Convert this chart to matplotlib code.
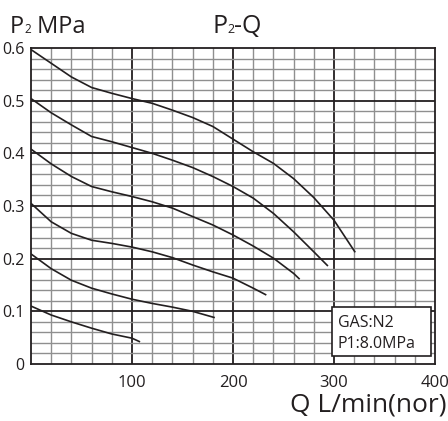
import matplotlib.pyplot as plt
from matplotlib.patches import Rectangle
import numpy as np

# P2-Q flow curves (Q in L/min, P2 in MPa)
q1 = [0, 20, 40, 60, 80, 100, 120, 140, 160, 180, 200, 220, 240, 260, 280, 300, 321]
p1 = [0.597, 0.571, 0.545, 0.525, 0.514, 0.504, 0.495, 0.482, 0.468, 0.451, 0.427, 0.403, 0.381, 0.352, 0.316, 0.273, 0.212]

q2 = [0, 20, 40, 60, 80, 100, 120, 140, 160, 180, 200, 220, 240, 260, 280, 294]
p2 = [0.504, 0.477, 0.454, 0.432, 0.422, 0.411, 0.400, 0.387, 0.373, 0.356, 0.337, 0.315, 0.286, 0.251, 0.213, 0.186]

q3 = [0, 20, 40, 60, 80, 100, 120, 140, 160, 180, 200, 220, 240, 260, 266]
p3 = [0.408, 0.380, 0.356, 0.337, 0.327, 0.318, 0.308, 0.296, 0.280, 0.264, 0.245, 0.224, 0.201, 0.172, 0.161]

q4 = [0, 20, 40, 60, 80, 100, 120, 140, 160, 180, 200, 220, 233]
p4 = [0.305, 0.270, 0.248, 0.235, 0.229, 0.222, 0.213, 0.202, 0.188, 0.175, 0.163, 0.144, 0.131]

q5 = [0, 20, 40, 60, 80, 100, 120, 140, 160, 182]
p5 = [0.209, 0.181, 0.159, 0.144, 0.133, 0.123, 0.115, 0.108, 0.100, 0.088]

q6 = [0, 20, 40, 60, 80, 100, 108]
p6 = [0.110, 0.093, 0.080, 0.068, 0.057, 0.049, 0.042]

x_ticks = [100, 200, 300, 400]
y_ticks = [0, 0.1, 0.2, 0.3, 0.4, 0.5, 0.6]
y_labels = ['0', '0.1', '0.2', '0.3', '0.4', '0.5', '0.6']
note_lines = ['GAS:N2', 'P1:8.0MPa']

ink = '#231f20'
plt.rcParams['font.family'] = ['Open Sans', 'DejaVu Sans']

fig = plt.figure(figsize=(4.48, 4.21), dpi=100)
ax = fig.add_axes([31 / 448, 57 / 421, 404 / 448, 316 / 421])

ax.set_xlim(0, 400)
ax.set_ylim(0, 0.6)

# grid: thin grey every 20 / 0.02, dark every 100 / 0.1
for x in np.arange(20, 400, 20):
    major = x % 100 == 0
    ax.axvline(x, color=ink if major else '#8f8f8f', lw=1.3 if major else 1.0, zorder=1)
for y in np.arange(0.02, 0.6, 0.02):
    major = abs(y * 10 - round(y * 10)) < 1e-6
    ax.axhline(y, color=ink if major else '#8f8f8f', lw=1.3 if major else 1.0, zorder=1)

for q, p in [(q1, p1), (q2, p2), (q3, p3), (q4, p4), (q5, p5), (q6, p6)]:
    ax.plot(q, p, color=ink, lw=1.2, zorder=3, solid_capstyle='butt')

for s in ax.spines.values():
    s.set_color(ink)
    s.set_linewidth(1.3)

ax.set_xticks(x_ticks)
ax.set_yticks(y_ticks)
ax.set_yticklabels(y_labels)
ax.tick_params(length=0, colors=ink)
ax.tick_params(axis='y', pad=4.5, labelsize=11.5)
ax.tick_params(axis='x', pad=8, labelsize=12)


def pieces(x_px, base_px, parts):
    # draw text pieces one after another on a common baseline (pixel coords)
    fig.canvas.draw()
    r = fig.canvas.get_renderer()
    x = x_px
    for s, size in parts:
        t = fig.text(x / 448, 1 - base_px / 421, s, fontsize=size, color=ink,
                     ha='left', va='baseline')
        x = t.get_window_extent(r).x1


pieces(10, 33, [('P', 17), ('2', 8.5), (' MPa', 17)])
pieces(212, 33, [('P', 18), ('2', 9), ('-Q', 18)])
fig.text(446 / 448, 1 - 411 / 421, 'Q L/min(nor)', fontsize=19, color=ink, ha='right', va='baseline')

# gas / inlet pressure note
ax.add_patch(Rectangle((297.7, 0.0152), 98, 0.0936, fc='white', ec=ink, lw=1.2, zorder=5))
ax.text(303.7, 0.0708, note_lines[0], fontsize=11.5, color=ink, ha='left', va='baseline', zorder=6)
ax.text(303.7, 0.0298, note_lines[1], fontsize=11.5, color=ink, ha='left', va='baseline', zorder=6)

fig.savefig('out.png', dpi=100)
